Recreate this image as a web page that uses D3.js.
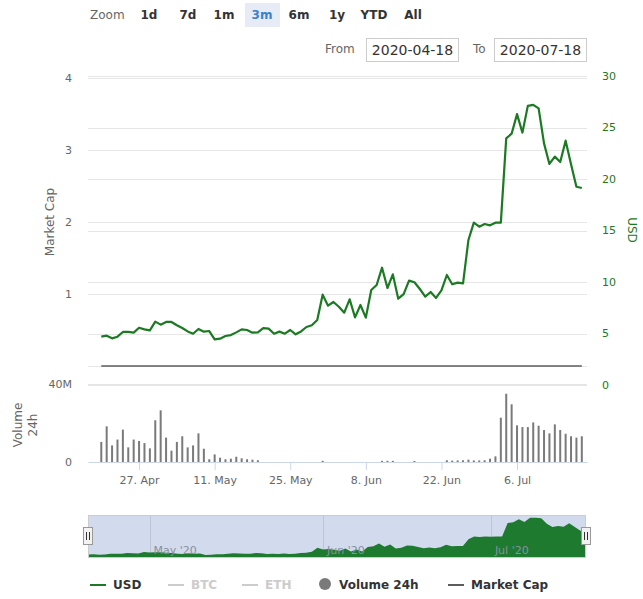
<!DOCTYPE html>
<html><head><meta charset="utf-8">
<script src="https://cdnjs.cloudflare.com/ajax/libs/d3/7.8.5/d3.min.js"></script>
<style>body{margin:0;background:#fff;} svg{font-family:"DejaVu Sans",sans-serif;display:block;}</style>
</head><body><svg id="c" width="643" height="599"></svg>
<script>
// ---------- data ----------
const startDate = "2020-04-20";
const usd = [4.69,4.79,4.53,4.69,5.15,5.15,5.08,5.56,5.40,5.30,
  6.15,5.86,6.12,6.12,5.80,5.53,5.20,4.98,5.44,5.18,
  5.24,4.43,4.50,4.76,4.85,5.11,5.40,5.34,5.08,5.11,
  5.53,5.47,4.98,5.18,4.98,5.34,4.92,5.20,5.63,5.80,
  6.31,8.77,7.70,8.06,7.60,7.02,8.32,6.57,7.77,6.54,
  9.22,9.71,11.39,9.42,10.74,8.38,8.83,10.13,9.97,9.32,
  8.58,9.03,8.45,9.19,10.68,9.78,9.94,9.87,14.08,15.76,
  15.37,15.63,15.50,15.76,15.76,23.95,24.40,26.30,24.50,27.10,
  27.20,26.86,23.46,21.46,22.17,21.65,23.72,21.43,19.25,19.13];
// volume 24h in millions USD
const volume = [10.3,18.3,8.5,11.5,16.6,7.5,11.5,10.8,9.7,7.0,
  21.4,26.5,12.5,5.8,10.3,13.2,7.5,8.5,14.7,6.8,
  1.4,3.9,2.2,1.4,1.7,2.7,1.9,1.4,1.2,0.9,
  0,0,0,0,0,0,0,0,0,0,
  0,0.6,0,0,0,0,0,0,0,0,
  0,0,0.6,0.6,0.6,0,0,0,0.5,0,
  0,0,0,0,0.9,0.7,0.8,0.9,1.2,0.8,
  0.8,0.9,1.7,2.9,22.7,35.0,29.6,18.8,17.9,17.9,
  20.3,18.6,16.4,14.7,19.3,16.4,14.5,13.2,12.5,13.2];
const marketCap = [0,0,0,0,0,0,0,0,0,0, 0,0,0,0,0,0,0,0,0,0,
  0,0,0,0,0,0,0,0,0,0, 0,0,0,0,0,0,0,0,0,0,
  0,0,0,0,0,0,0,0,0,0, 0,0,0,0,0,0,0,0,0,0,
  0,0,0,0,0,0,0,0,0,0, 0,0,0,0,0,0,0,0,0,0,
  0,0,0,0,0,0,0,0,0,0];
const zoomButtons = ["1d","7d","1m","3m","6m","1y","YTD","All"];
const selectedButton = "3m";
const fromDate = "2020-04-18", toDate = "2020-07-18";
const leftTicks = [0,1,2,3,4];
const rightTicks = [0,5,10,15,20,25,30];
const volumeTicks = [0,40];
const xTicks = ["2020-04-27","2020-05-11","2020-05-25","2020-06-08","2020-06-22","2020-07-06"];
const navTicks = ["2020-05-01","2020-06-01","2020-07-01"];
const legendNames = ["USD","BTC","ETH","Volume 24h","Market Cap"];
const legendVisible = [true,false,false,true,true];

// ---------- setup ----------
const svg = d3.select("#c");
const parse = d3.utcParse("%Y-%m-%d");
const t0 = parse(startDate);
const dates = usd.map((_, i) => d3.utcDay.offset(t0, i));
const green = "#1b7a22", gridC = "#e6e6e6", labelC = "#666666";

const L = 88, R = 587;
const x = d3.scaleUtc()
  .domain([d3.utcHour.offset(parse("2020-04-17"), 13), d3.utcHour.offset(parse("2020-07-18"), 23)])
  .range([L, R]);
const yCap = d3.scaleLinear().domain([0, 4]).range([366, 78]);
const yUsd = d3.scaleLinear().domain([0, 30]).range([385, 76]);
const yVol = d3.scaleLinear().domain([0, 40]).range([462, 384]);

// ---------- gridlines ----------
const grid = svg.append("g");
leftTicks.forEach(t => grid.append("line").attr("x1", L).attr("x2", R)
  .attr("y1", Math.round(yCap(t)) + 0.5).attr("y2", Math.round(yCap(t)) + 0.5).attr("stroke", gridC));
rightTicks.forEach(t => grid.append("line").attr("x1", L).attr("x2", R)
  .attr("y1", Math.round(yUsd(t)) + 0.5).attr("y2", Math.round(yUsd(t)) + 0.5).attr("stroke", gridC));
grid.append("line").attr("x1", L).attr("x2", R)
  .attr("y1", Math.round(yVol(40)) + 0.5).attr("y2", Math.round(yVol(40)) + 0.5).attr("stroke", gridC);

// ---------- axis labels ----------
const lab = svg.append("g").attr("font-size", 11).attr("fill", labelC);
leftTicks.filter(t => t > 0).forEach(t => lab.append("text").attr("x", 72).attr("y", yCap(t))
  .attr("dy", "0.35em").attr("text-anchor", "end").text(t));
rightTicks.forEach(t => lab.append("text").attr("x", 602).attr("y", yUsd(t))
  .attr("dy", "0.35em").attr("fill", green).text(t));
volumeTicks.forEach(t => lab.append("text").attr("x", 72).attr("y", yVol(t))
  .attr("dy", "0.35em").attr("text-anchor", "end").text(t === 0 ? "0" : t + "M"));

// titles
svg.append("text").attr("transform", "translate(50,222) rotate(-90)").attr("text-anchor", "middle")
  .attr("dominant-baseline", "central").attr("font-size", 12).attr("fill", labelC).text("Market Cap");
svg.append("text").attr("transform", "translate(632,230) rotate(90)").attr("text-anchor", "middle")
  .attr("dominant-baseline", "central").attr("font-size", 12).attr("fill", green).text("USD");
svg.append("text").attr("transform", "translate(18,425) rotate(-90)").attr("text-anchor", "middle")
  .attr("dominant-baseline", "central").attr("font-size", 12).attr("fill", labelC).text("Volume");
svg.append("text").attr("transform", "translate(33,425) rotate(-90)").attr("text-anchor", "middle")
  .attr("dominant-baseline", "central").attr("font-size", 12).attr("fill", labelC).text("24h");

// ---------- x axis ----------
const xAxis = d3.axisBottom(x).tickValues(xTicks.map(parse))
  .tickFormat(d3.utcFormat("%-d. %b")).tickSizeInner(8).tickSizeOuter(0).tickPadding(6);
const gx = svg.append("g").attr("transform", "translate(0,462)").call(xAxis);
gx.select(".domain").attr("stroke", "#ccd6eb");
gx.selectAll(".tick line").attr("stroke", "#ccd6eb");
gx.selectAll(".tick text").attr("fill", labelC).attr("font-size", 11).attr("font-family", "DejaVu Sans");

// ---------- volume bars ----------
svg.append("g").selectAll("rect").data(volume).join("rect")
  .attr("x", (d, i) => x(dates[i]) - 1).attr("width", 2)
  .attr("y", d => yVol(d)).attr("height", d => yVol(0) - yVol(d))
  .attr("fill", "#7a7a7a");

// ---------- market cap line ----------
svg.append("path").datum(marketCap)
  .attr("d", d3.line().x((d, i) => x(dates[i])).y(d => yCap(d)))
  .attr("fill", "none").attr("stroke", "#5c5c5c").attr("stroke-width", 1.6);

// ---------- USD line ----------
svg.append("path").datum(usd)
  .attr("d", d3.line().x((d, i) => x(dates[i])).y(d => yUsd(d)))
  .attr("fill", "none").attr("stroke", green).attr("stroke-width", 2.2)
  .attr("stroke-linejoin", "round");

// ---------- navigator ----------
const NT = 515, NB = 558, NL = 88, NR = 586;
const xn = d3.scaleUtc().domain([dates[0], dates[dates.length - 1]]).range([NL, NR]);
const [mn, mx] = d3.extent(usd);
const yn = d3.scaleLinear().domain([mn - 0.083 * (mx - mn), mx + 0.072 * (mx - mn)]).range([NB, NT]);
const nav = svg.append("g");
nav.append("rect").attr("x", NL).attr("y", NT).attr("width", NR - NL).attr("height", NB - NT)
  .attr("fill", "#d2daed");
navTicks.map(parse).forEach((d, i) => {
  nav.append("line").attr("x1", Math.round(xn(d)) + 0.5).attr("x2", Math.round(xn(d)) + 0.5)
    .attr("y1", NT).attr("y2", NB).attr("stroke", "#bcc4d6");
});
nav.append("path").datum(usd)
  .attr("d", d3.area().x((d, i) => xn(dates[i])).y0(NB).y1(d => yn(d)))
  .attr("fill", "#1d7a2e");
navTicks.map(parse).forEach(d => {
  nav.append("text").attr("x", xn(d) + 4).attr("y", 554).attr("font-size", 11)
    .attr("fill", "#8a8fa0").text(d3.utcFormat("%b '%y")(d));
});
nav.append("rect").attr("x", NL + 0.5).attr("y", NT + 0.5).attr("width", NR - NL - 1).attr("height", NB - NT - 1)
  .attr("fill", "none").attr("stroke", "#cccccc");
[NL, NR].forEach(hx => {
  const h = nav.append("g").attr("transform", `translate(${Math.round(hx)},536)`);
  h.append("rect").attr("x", -4.5).attr("y", -8.5).attr("width", 9).attr("height", 17)
    .attr("fill", "#f2f2f2").attr("stroke", "#999999");
  h.append("line").attr("x1", -1.5).attr("x2", -1.5).attr("y1", -4).attr("y2", 4).attr("stroke", "#333");
  h.append("line").attr("x1", 1.5).attr("x2", 1.5).attr("y1", -4).attr("y2", 4).attr("stroke", "#333");
});

// ---------- range selector ----------
const toolbar = svg.append("g");
toolbar.append("text").attr("x", 90).attr("y", 19).attr("font-size", 12).attr("fill", labelC).text("Zoom");
const btnCenters = [149, 188, 224, 262, 299, 337, 374, 413];
zoomButtons.forEach((b, i) => {
  const sel = b === selectedButton;
  if (sel) toolbar.append("rect").attr("x", btnCenters[i] - 17).attr("y", 3).attr("width", 35).attr("height", 24)
    .attr("fill", "#e6ebf5");
  toolbar.append("text").attr("x", btnCenters[i]).attr("y", 19).attr("text-anchor", "middle")
    .attr("font-size", 12).attr("font-weight", "bold").attr("fill", sel ? "#3a82cf" : "#333333").text(b);
});
toolbar.append("text").attr("x", 325).attr("y", 53).attr("font-size", 12).attr("fill", labelC).text("From");
toolbar.append("rect").attr("x", 366.5).attr("y", 38.5).attr("width", 92).attr("height", 23)
  .attr("fill", "#fff").attr("stroke", "#cccccc");
toolbar.append("text").attr("x", 412.5).attr("y", 55).attr("text-anchor", "middle").attr("font-size", 14)
  .attr("fill", "#333").text(fromDate);
toolbar.append("text").attr("x", 473).attr("y", 53).attr("font-size", 12).attr("fill", labelC).text("To");
toolbar.append("rect").attr("x", 494.5).attr("y", 38.5).attr("width", 92).attr("height", 23)
  .attr("fill", "#fff").attr("stroke", "#cccccc");
toolbar.append("text").attr("x", 540.5).attr("y", 55).attr("text-anchor", "middle").attr("font-size", 14)
  .attr("fill", "#333").text(toDate);

// ---------- legend ----------
const legX = [90, 168, 242, 319, 448];
const legColors = [green, "#cccccc", "#cccccc", "#7a7a7a", "#5c5c5c"];
const leg = svg.append("g");
legendNames.forEach((n, i) => {
  const lx = legX[i], vis = legendVisible[i];
  if (n === "Volume 24h") {
    leg.append("circle").attr("cx", lx + 6).attr("cy", 584).attr("r", 6).attr("fill", legColors[i]);
    leg.append("text").attr("x", lx + 20).attr("y", 589).attr("font-size", 12).attr("font-weight", "bold")
      .attr("fill", "#333").text(n);
  } else {
    leg.append("line").attr("x1", lx).attr("x2", lx + 16).attr("y1", 585).attr("y2", 585)
      .attr("stroke", legColors[i]).attr("stroke-width", 2);
    leg.append("text").attr("x", lx + 23).attr("y", 589).attr("font-size", 12).attr("font-weight", "bold")
      .attr("fill", vis ? "#333" : "#cccccc").text(n);
  }
});
</script></body></html>
